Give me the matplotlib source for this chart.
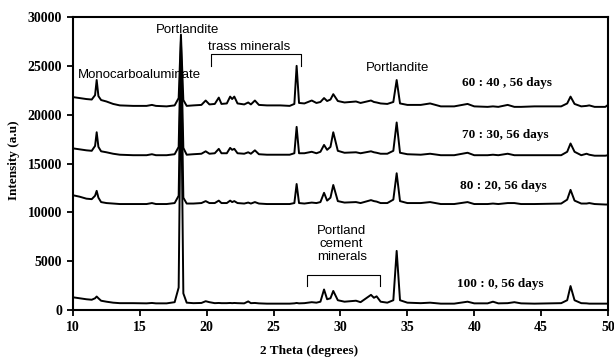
import matplotlib
matplotlib.use("Agg")
import matplotlib.pyplot as plt

# 2-theta grid shared by all four patterns (degrees)
two_theta = [10.0, 10.5, 11.0, 11.4, 11.65, 11.77, 11.9, 12.1, 12.5, 13.0,
             13.5, 14.5, 15.5, 15.9, 16.2, 17.0, 17.6, 17.9, 18.07, 18.25,
             18.5, 19.0, 19.6, 19.92, 20.2, 20.6, 20.9, 21.1, 21.5, 21.75,
             21.9, 22.06, 22.3, 22.8, 23.1, 23.3, 23.6, 23.9, 24.5, 25.5,
             26.2, 26.55, 26.72, 26.9, 27.3, 27.85, 28.2, 28.5, 28.77, 29.0,
             29.25, 29.46, 29.8, 30.3, 31.16, 31.5, 32.28, 32.5, 32.7, 33.0,
             33.5, 33.95, 34.2, 34.45, 35.0, 36.0, 36.7, 37.5, 38.5, 39.5,
             40.0, 41.0, 41.4, 41.8, 42.5, 43.0, 43.5, 44.5, 46.5, 46.95,
             47.2, 47.5, 48.0, 48.4, 48.6, 49.0, 49.8, 50.0]

# intensities (a.u), already offset as drawn
i_60_40 = [21800, 21700, 21600, 21550, 22000, 23550, 21900, 21500, 21350, 21100,
           20950, 20900, 20900, 21000, 20900, 20850, 20950, 21700, 28200, 21500,
           20900, 20950, 21000, 21450, 21050, 21100, 21750, 21100, 21150, 21850,
           21600, 21850, 21150, 21050, 21250, 21050, 21450, 21000, 20950, 20950,
           20900, 21100, 25000, 21200, 21150, 21450, 21200, 21300, 21700, 21400,
           21550, 22100, 21400, 21250, 21350, 21200, 21450, 21300, 21250, 21150,
           21100, 21300, 23550, 21150, 21000, 21000, 21150, 20850, 20850, 21100,
           20850, 20800, 20850, 20800, 21000, 20800, 20800, 20850, 20850, 21150,
           21850, 21100, 20850, 20900, 20950, 20800, 20800, 21000]

i_70_30 = [16550, 16450, 16350, 16300, 16800, 18200, 16700, 16250, 16150, 16000,
           15900, 15850, 15850, 15950, 15850, 15850, 15950, 16700, 27500, 16600,
           15900, 15950, 16000, 16250, 16000, 16050, 16500, 16050, 16050, 16600,
           16400, 16500, 16050, 16000, 16150, 16000, 16350, 15950, 15900, 15900,
           15900, 16050, 18750, 16050, 16050, 16200, 16050, 16200, 16900, 16400,
           16700, 18200, 16300, 16100, 16150, 16050, 16250, 16150, 16100, 16000,
           16000, 16300, 19200, 16100, 15950, 15900, 16000, 15850, 15850, 16100,
           15850, 15850, 15900, 15850, 16000, 15850, 15850, 15850, 15850, 16200,
           17050, 16200, 15850, 16000, 15900, 15800, 15800, 15850]

i_80_20 = [11750, 11600, 11400, 11350, 11700, 12200, 11500, 11050, 10950, 10900,
           10850, 10850, 10850, 10950, 10850, 10850, 10950, 11700, 26500, 11500,
           10900, 10900, 10950, 11150, 10950, 10950, 11200, 10950, 10950, 11200,
           11050, 11150, 10950, 10900, 11000, 10900, 11050, 10900, 10850, 10850,
           10850, 10950, 12900, 10950, 10900, 11000, 10950, 11050, 12000, 11200,
           11500, 12800, 11150, 11000, 11050, 10950, 11250, 11150, 11100, 10950,
           10950, 11300, 14000, 11150, 10950, 10950, 11050, 10850, 10850, 11050,
           10850, 10850, 10900, 10850, 10950, 10950, 10850, 10850, 10900, 11300,
           12300, 11200, 10900, 10900, 10950, 10850, 10800, 10800]

i_100_0 = [1300, 1200, 1100, 1050, 1200, 1380, 1200, 950, 850, 750,
           700, 700, 680, 720, 680, 680, 800, 2300, 25000, 1700,
           750, 700, 720, 900, 800, 700, 720, 700, 700, 720,
           700, 720, 700, 680, 880, 700, 720, 680, 650, 650,
           650, 680, 720, 680, 700, 800, 750, 850, 2100, 1100,
           1200, 1950, 1000, 850, 950, 800, 1550, 1250, 1400, 850,
           750, 1000, 6050, 1000, 750, 700, 750, 650, 650, 850,
           680, 680, 850, 680, 700, 800, 680, 650, 700, 1000,
           2450, 1000, 700, 680, 650, 650, 650, 650]

patterns = [i_100_0, i_80_20, i_70_30, i_60_40]
sample_labels = ["100 : 0, 56 days", "80 : 20, 56 days", "70 : 30, 56 days", "60 : 40 , 56 days"]
label_pos = [(41.96, 2660), (42.17, 12700), (42.34, 17920), (42.45, 23280)]

serif = "Liberation Serif"
sans = "Liberation Sans"

fig = plt.figure(figsize=(6.14, 3.59), dpi=100)
ax = fig.add_axes([0.1189, 0.1365, 0.8713, 0.8161])

for y in patterns:
    ax.plot(two_theta, y, color="black", lw=1.4)

for txt, (x, y) in zip(sample_labels, label_pos):
    ax.text(x, y, txt, ha="center", va="center", fontsize=9.5,
            fontweight="bold", family=serif)

# peak annotations
ax.text(18.58, 28670, "Portlandite", ha="center", va="center", fontsize=9.5, family=sans)
ax.text(14.97, 24030, "Monocarboaluminate", ha="center", va="center", fontsize=9.5, family=sans)
ax.text(34.26, 24750, "Portlandite", ha="center", va="center", fontsize=9.5, family=sans)
ax.text(23.15, 26960, "trass minerals", ha="center", va="center", fontsize=9.5, family=sans)
ax.plot([20.3, 20.3, 27.05, 27.05], [25000, 26180, 26180, 25000], color="black", lw=0.8)
ax.text(30.09, 6730, "Portland\ncement\nminerals", ha="center", va="center",
        fontsize=9.5, family=sans, linespacing=1.1)
ax.plot([27.52, 27.52, 32.95, 32.95], [2460, 3580, 3580, 2460], color="black", lw=0.8)

ax.set_xlim(10, 50)
ax.set_ylim(0, 30000)
ax.set_xticks(range(10, 51, 5))
ax.set_yticks(range(0, 30001, 5000))
ax.tick_params(direction="out", length=4, width=1.3, pad=4, top=False, right=False)
for lab in ax.get_xticklabels() + ax.get_yticklabels():
    lab.set_family(serif)
    lab.set_fontweight("bold")
    lab.set_fontsize(10)
for s in ax.spines.values():
    s.set_linewidth(1.5)

fig.text(309 / 614, 0.022, "2 Theta (degrees)", ha="center", va="center",
         fontsize=9.5, fontweight="bold", family=serif)
fig.text(0.022, 0.555, "Intensity (a.u)", ha="center", va="center", rotation=90,
         fontsize=9.5, fontweight="bold", family=serif)

fig.savefig("out.png", dpi=100)
